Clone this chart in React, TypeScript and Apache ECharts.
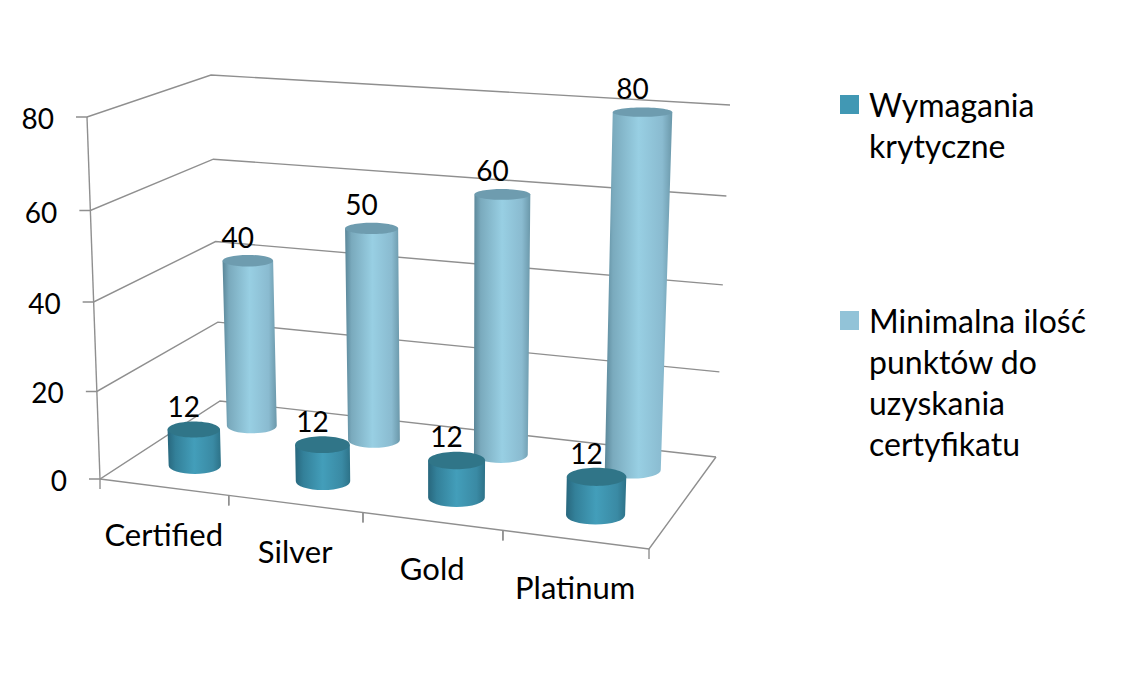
import React, { useEffect, useRef } from "react";
import * as echarts from "echarts";

const categories = ["Certified", "Silver", "Gold", "Platinum"];
const seriesNameCritical = "Wymagania krytyczne";
const seriesNameMinimum = "Minimalna ilość punktów do uzyskania certyfikatu";
const criticalValues = [12, 12, 12, 12];
const minimumValues = [40, 50, 60, 80];
const yTicks = [0, 20, 40, 60, 80];
const legendCriticalLines = ["Wymagania", "krytyczne"];
const legendMinimumLines = ["Minimalna ilość", "punktów do", "uzyskania", "certyfikatu"];

const FONT = "Lato, Carlito, Calibri, sans-serif";
const GRID = { left: 100, top: 117, width: 549, height: 362 };
type P = [number, number];

// Perspective box: floor and top planes, as seen in the picture
function makeQuad(p0: P, p1: P, p2: P, p3: P) {
  const dx1 = p1[0] - p2[0], dx2 = p3[0] - p2[0], sx = p0[0] - p1[0] + p2[0] - p3[0];
  const dy1 = p1[1] - p2[1], dy2 = p3[1] - p2[1], sy = p0[1] - p1[1] + p2[1] - p3[1];
  const den = dx1 * dy2 - dx2 * dy1;
  const g = (sx * dy2 - dx2 * sy) / den;
  const h = (dx1 * sy - sx * dy1) / den;
  const a = p1[0] - p0[0] + g * p1[0], b = p3[0] - p0[0] + h * p3[0], c = p0[0];
  const d = p1[1] - p0[1] + g * p1[1], e = p3[1] - p0[1] + h * p3[1], f = p0[1];
  return (u: number, v: number): P => {
    const w = g * u + h * v + 1;
    return [(a * u + b * v + c) / w, (d * u + e * v + f) / w];
  };
}
const floorQuad = makeQuad([100, 479], [649, 549], [716, 457], [220, 401]);
const topQuad = makeQuad([87, 117], [664, 156], [730, 105], [211, 75]);
const HEIGHT_PERSPECTIVE = 0.045;
function project(u: number, d: number, h: number): P {
  const a = floorQuad(u, d), b = topQuad(u, d);
  const t = h / (1 + HEIGHT_PERSPECTIVE * (1 - h));
  return [a[0] + (b[0] - a[0]) * t, a[1] + (b[1] - a[1]) * t];
}
function toUH(api: any, cat: number, value: number) {
  const c = api.coord([cat, value]);
  return { u: (c[0] - GRID.left) / GRID.width, h: (GRID.top + GRID.height - c[1]) / GRID.height };
}
function label(x: number, y: number, text: string, extra: any = {}) {
  return {
    type: "text", x, y, z2: 50,
    style: { text, fontFamily: FONT, fontSize: 28, fill: "#000", align: "center", verticalAlign: "middle", ...extra },
  };
}

const R_U = 0.052, R_D = 0.1;
// The short cylinders are drawn at about two thirds of their labelled height, as in the reference.
function cylinderSeries(name: string, values: number[], depth: number, heightScale: number, colors: any) {
  return {
    type: "custom", name, silent: true,
    encode: { x: 0, y: 1 },
    data: values.map((v, i) => [i, v]),
    renderItem: (_: any, api: any) => {
      const cat = api.value(0), val = api.value(1);
      const { u, h } = toUH(api, cat, val);
      const H = h * heightScale;
      const ell = (hh: number) => {
        const c = project(u, depth, hh);
        const l = project(u - R_U, depth, hh), r = project(u + R_U, depth, hh);
        const f = project(u, depth - R_D, hh), b = project(u, depth + R_D, hh);
        return { c, rx: (r[0] - l[0]) / 2, ry: Math.abs(f[1] - b[1]) / 2 };
      };
      const t = ell(H), o = ell(0);
      const d = `M ${t.c[0] - t.rx} ${t.c[1]} L ${o.c[0] - o.rx} ${o.c[1]} A ${o.rx} ${o.ry} 0 0 0 ${o.c[0] + o.rx} ${o.c[1]} L ${t.c[0] + t.rx} ${t.c[1]} Z`;
      return {
        type: "group",
        children: [
          {
            type: "path",
            shape: { pathData: d },
            style: {
              fill: new echarts.graphic.LinearGradient(0, 0, 1, 0, colors.body),
            },
          },
          {
            type: "ellipse",
            shape: { cx: t.c[0], cy: t.c[1], rx: t.rx, ry: t.ry },
            style: { fill: colors.top },
          },
          label(t.c[0] - 10, t.c[1] - 24, String(val)),
        ],
      };
    },
  };
}

const frameSeries = {
  type: "custom", silent: true, encode: { x: 0, y: 1 },
  data: yTicks.map((v) => [0, v]),
  renderItem: (_: any, api: any) => {
    const v = api.value(1);
    const { h } = toUH(api, 0, v);
    const a = project(0, 0, h), b = project(0, 1, h), c = project(1, 1, h);
    const line = { stroke: "#8f8f8f", lineWidth: 1.4, fill: "none" };
    return {
      type: "group",
      children: [
        { type: "polyline", shape: { points: [[a[0] - 11, a[1]], a, b, c] }, style: line },
        label(a[0] - 33, a[1] + 1, String(v), { align: "right" }),
      ],
    };
  },
};

const edgeSeries = {
  type: "custom", silent: true, encode: { x: 0, y: 1 },
  data: [[0, 0]],
  renderItem: () => {
    const line = { stroke: "#8f8f8f", lineWidth: 1.4, fill: "none" };
    return {
      type: "group",
      children: [
        { type: "polyline", shape: { points: [project(0, 0, 1), project(0, 0, 0)] }, style: line },
        { type: "polyline", shape: { points: [project(0, 0, 0), project(1, 0, 0), project(1, 1, 0)] }, style: line },
      ],
    };
  },
};

const categorySeries = {
  type: "custom", silent: true, encode: { x: 0, y: 1 },
  data: categories.map((_, i) => [i, 0]),
  renderItem: (_: any, api: any) => {
    const i = api.value(0);
    const { u } = toUH(api, i, 0);
    const p = project(u, 0, 0);
    const edges = [u - 0.125, u + 0.125].map((e) => project(e, 0, 0));
    const line = { stroke: "#8f8f8f", lineWidth: 1.4, fill: "none" };
    return {
      type: "group",
      children: [
        ...edges.map((e) => ({ type: "polyline", shape: { points: [e, [e[0], e[1] + 10]] }, style: line })),
        label(p[0], p[1] + 47, categories[i], { fontSize: 31 }),
      ],
    };
  },
};

function legendBlock(lines: string[], swatchY: number, firstY: number, color: string) {
  return [
    { type: "rect", shape: { x: 840, y: swatchY, width: 19, height: 19 }, style: { fill: color } },
    ...lines.map((t, i) => ({
      type: "text", x: 869, y: firstY + i * 41,
      style: { text: t, fontFamily: FONT, fontSize: 32, fill: "#000", align: "left", verticalAlign: "middle" },
    })),
  ];
}

export default function App() {
  const ref = useRef<HTMLDivElement>(null);
  useEffect(() => {
    document.body.style.margin = "0";
    document.body.style.background = "#fff";
    const chart = echarts.init(ref.current!, null, { renderer: "svg" });
    chart.setOption({
      animation: false,
      backgroundColor: "#fff",
      grid: { ...GRID },
      xAxis: { type: "category", data: categories, show: false },
      yAxis: { type: "value", min: 0, max: 80, interval: 20, show: false },
      graphic: [
        ...legendBlock(legendCriticalLines, 95, 104, "#4198B4"),
        ...legendBlock(legendMinimumLines, 311, 320, "#92C3D8"),
      ],
      series: [
        frameSeries,
        edgeSeries,
        categorySeries,
        cylinderSeries(seriesNameMinimum, minimumValues, 0.75, 1, {
          body: [
            { offset: 0, color: "#5A8698" },
            { offset: 0.12, color: "#7AAABD" },
            { offset: 0.5, color: "#98CFE3" },
            { offset: 0.85, color: "#8ABBD0" },
            { offset: 1, color: "#6B98AA" },
          ],
          top: "#6E9CAF",
        }),
        cylinderSeries(seriesNameCritical, criticalValues, 0.25, 0.7, {
          body: [
            { offset: 0, color: "#28677D" },
            { offset: 0.15, color: "#338099" },
            { offset: 0.5, color: "#439EBA" },
            { offset: 0.85, color: "#3A8AA4" },
            { offset: 1, color: "#2D7288" },
          ],
          top: "#307588",
        }),
      ],
    });
    return () => chart.dispose();
  }, []);
  return <div ref={ref} style={{ width: 1121, height: 677 }} />;
}
